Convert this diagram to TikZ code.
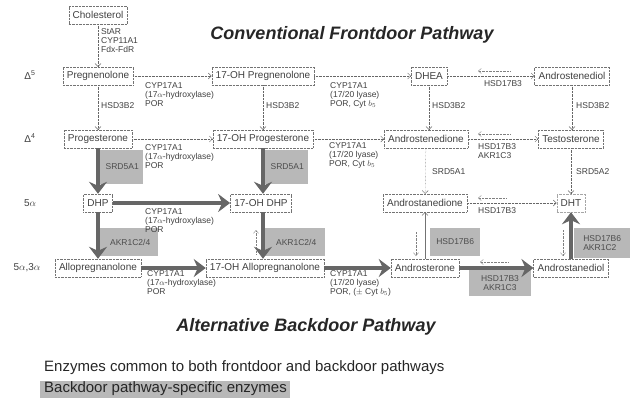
\documentclass[tikz,border=0pt]{standalone}
\usepackage{fontspec}
\setmainfont{Liberation Sans}
\usetikzlibrary{arrows.meta}
\tikzset{
  cmp/.style={draw=black!55, densely dotted, fill=white, text=black!75,
    font=\fontsize{10}{11}\selectfont, inner xsep=4pt, minimum height=18pt},
  lbl/.style={align=left, text=black!75, font=\fontsize{8.5}{9.3}\selectfont,
    inner sep=0pt},
  enz/.style={fill=black!28, text=black!70, font=\fontsize{8.5}{9.3}\selectfont,
    align=left, inner sep=2pt},
  fwd/.style={draw=black!60, densely dotted, -{Straight Barb[length=3pt,width=6pt]}},
  rev/.style={draw=black!50, densely dotted, -{Straight Barb[length=3pt,width=5pt]}},
  bd/.style={draw=black!60, line width=4.5pt,
    -{Stealth[length=12pt,width=18pt,inset=4pt]}},
  ttl/.style={font=\fontsize{18}{20}\selectfont\bfseries\itshape, text=black!85},
  row/.style={text=black!75, font=\fontsize{10}{11}\selectfont},
  key/.style={anchor=west, font=\fontsize{15}{17}\selectfont, text=black!85},
}
\begin{document}
\begin{tikzpicture}[x=1pt,y=-1pt]
\useasboundingbox (0,0) rectangle (634,408);

% titles
\node[ttl] (t1) at (352,35) {Conventional Frontdoor Pathway};
\node[ttl] (t2) at (306,327) {Alternative Backdoor Pathway};

% row markers
\node[row] (m1) at (30,75) {Δ\textsuperscript{5}};
\node[row] (m2) at (30,138) {Δ\textsuperscript{4}};
\node[row] (m3) at (30,203) {5$\alpha$};
\node[row] (m4) at (27,268) {5$\alpha$,3$\alpha$};

% backdoor-specific enzyme shading
\node[enz, minimum width=43pt, minimum height=34pt, anchor=west] (e1) at (100,167) {\hspace*{1pt}SRD5A1};
\node[enz, minimum width=43pt, minimum height=34pt, anchor=west] (e2) at (265,167) {\hspace*{1pt}SRD5A1};
\node[enz, minimum width=58pt, minimum height=28pt, anchor=west] (e3) at (100,242) {\hspace*{2pt}AKR1C2/4};
\node[enz, minimum width=60pt, minimum height=28pt, anchor=west] (e4) at (265,242) {\hspace*{2pt}AKR1C2/4};
\node[enz, minimum width=50pt, minimum height=28pt, anchor=west] (e5) at (430,242) {HSD17B6};
\node[enz, minimum width=56pt, minimum height=30pt, anchor=west] (e6) at (574,243) {HSD17B6\\AKR1C2};
\node[enz, minimum width=62pt, minimum height=26pt, align=center] (e7) at (500,283) {HSD17B3\\AKR1C3};

% compounds
\node[cmp] (chol)   at (98,15)  {Cholesterol};
\node[cmp] (preg)   at (98,76)  {Pregnenolone};
\node[cmp] (ohpreg) at (263,76) {17-OH Pregnenolone};
\node[cmp] (dhea)   at (429,76) {DHEA};
\node[cmp] (adiol)  at (572,76) {Androstenediol};
\node[cmp] (prog)   at (98,139) {Progesterone};
\node[cmp] (ohprog) at (263,139) {17-OH Progesterone};
\node[cmp] (adione) at (426,139) {Androstenedione};
\node[cmp] (testo)  at (571,139) {Testosterone};
\node[cmp] (dhp)    at (98,203) {DHP};
\node[cmp] (ohdhp)  at (261,203) {17-OH DHP};
\node[cmp] (aadione) at (425,203) {Androstanedione};
\node[cmp, draw=black!35] (dht) at (571,203) {DHT};
\node[cmp] (allo)   at (98,268) {Allopregnanolone};
\node[cmp] (ohallo) at (265,268) {17-OH Allopregnanolone};
\node[cmp] (andro)  at (425,268) {Androsterone};
\node[cmp] (aadiol) at (571,268) {Androstanediol};

% frontdoor reactions
\draw[fwd] (chol) -- (preg);
\draw[fwd] (preg) -- (ohpreg);
\draw[fwd] (ohpreg) -- (dhea);
\draw[fwd] (dhea) -- (adiol);
\draw[fwd] (preg) -- (prog);
\draw[fwd] (ohpreg) -- (ohprog);
\draw[fwd] (dhea.south) -- (dhea.south |- adione.north);
\draw[fwd] (adiol.south) -- (adiol.south |- testo.north);
\draw[fwd] (prog) -- (ohprog);
\draw[fwd] (ohprog) -- (adione);
\draw[fwd] (adione) -- (testo);
\draw[fwd] (adione) -- (aadione);
\draw[fwd] (testo) -- (dht);
\draw[fwd] (aadione) -- (dht);

% reverse reactions
\coordinate (r1a) at (510,71); \coordinate (r1b) at (478,71);
\coordinate (r2a) at (510,134); \coordinate (r2b) at (478,134);
\coordinate (r3a) at (506,198); \coordinate (r3b) at (478,198);
\coordinate (r4a) at (508,262); \coordinate (r4b) at (480,262);
\coordinate (r5a) at (416,232); \coordinate (r5b) at (416,256);
\coordinate (r6a) at (256,254); \coordinate (r6b) at (256,230);
\coordinate (r7a) at (563,230); \coordinate (r7b) at (563,256);
\foreach \a/\b in {r1a/r1b,r2a/r2b,r3a/r3b,r4a/r4b,r5a/r5b,r6a/r6b,r7a/r7b}
  \draw[rev] (\a) -- (\b);

% enzyme labels
\node[lbl, anchor=north west] (s0) at (101,28) {StAR\\CYP11A1\\Fdx-FdR};
\node[lbl, anchor=north west] (s1) at (145,82) {CYP17A1\\(17$\alpha$-hydroxylase)\\POR};
\node[lbl, anchor=north west] (s2) at (330,82) {CYP17A1\\(17/20 lyase)\\POR, Cyt $b_5$};
\node[lbl, anchor=north] (s3) at (503,80) {HSD17B3};
\node[lbl, anchor=west] (h1) at (101,106) {HSD3B2};
\node[lbl, anchor=west] (h2) at (266,106) {HSD3B2};
\node[lbl, anchor=west] (h3) at (432,106) {HSD3B2};
\node[lbl, anchor=west] (h4) at (576,106) {HSD3B2};
\node[lbl, anchor=north west] (s4) at (145,144) {CYP17A1\\(17$\alpha$-hydroxylase)\\POR};
\node[lbl, anchor=north west] (s5) at (329,142) {CYP17A1\\(17/20 lyase)\\POR, Cyt $b_5$};
\node[lbl, anchor=north west] (s6) at (478,143) {HSD17B3\\AKR1C3};
\node[lbl, anchor=west] (s7) at (432,172) {SRD5A1};
\node[lbl, anchor=west] (s8) at (576,172) {SRD5A2};
\node[lbl, anchor=north west] (s9) at (145,208) {CYP17A1\\(17$\alpha$-hydroxylase)\\POR};
\node[lbl, anchor=north west] (s10) at (478,207) {HSD17B3};
\node[lbl, anchor=north west] (s11) at (147,270) {CYP17A1\\(17$\alpha$-hydroxylase)\\POR};
\node[lbl, anchor=north west] (s12) at (330,270) {CYP17A1\\(17/20 lyase)\\POR, ($\pm$ Cyt $b_5$)};

% backdoor reactions
\draw[bd] (prog) -- (dhp);
\draw[bd] (ohprog) -- (ohdhp.north -| ohprog);
\draw[bd] (dhp) -- (ohdhp);
\draw[bd] (dhp) -- (allo);
\draw[bd] (ohdhp.south -| ohprog) -- (ohallo.north -| ohprog);
\draw[bd] (allo) -- (ohallo);
\draw[bd] (ohallo) -- (andro);
\draw[bd] (andro) -- (aadiol);
\draw[bd] (aadiol) -- (dht);
\draw[draw=black!55, -{Straight Barb[length=3pt,width=6pt]}] (andro) -- (aadione);

% legend
\node[key, inner sep=0pt] (k1) at (44,368)
  {Enzymes common to both frontdoor and backdoor pathways};
\node[key, fill=black!28, inner xsep=4pt, inner ysep=1.5pt] (k2) at (40,389)
  {\makebox[242pt][l]{Backdoor pathway-specific enzymes}};
\end{tikzpicture}
\end{document}
